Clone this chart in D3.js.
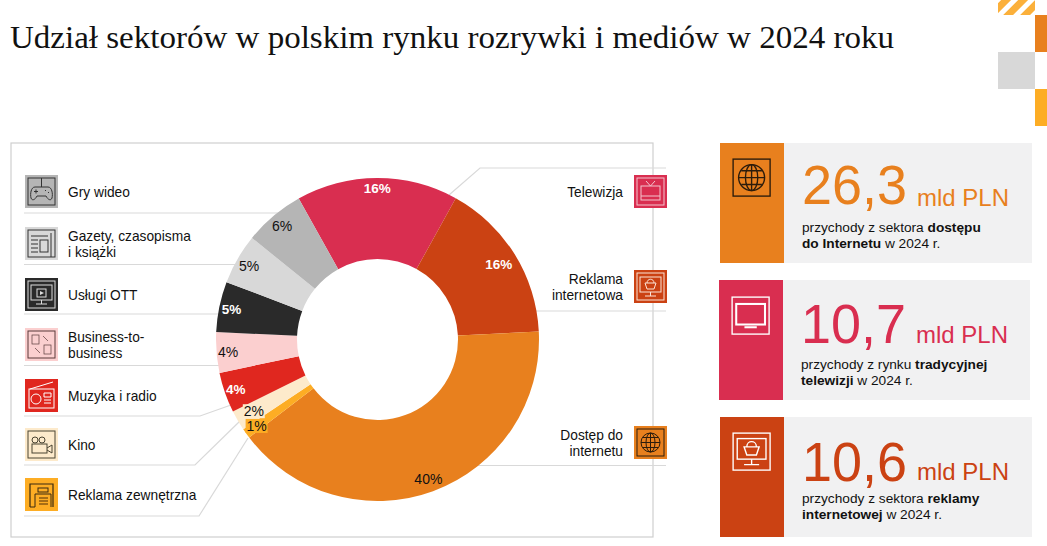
<!DOCTYPE html>
<html lang="pl">
<head>
<meta charset="utf-8">
<script src="https://cdn.jsdelivr.net/npm/d3@7"></script>
<style>
  html, body { margin: 0; padding: 0; background: #fff; }
  svg { display: block; }
  text { font-family: "Liberation Sans", Arial, sans-serif; fill: #111; }
</style>
</head>
<body>
<div id="chart"></div>
<script>
// chart values
var sectors = ["Telewizja", "Reklama internetowa", "Dostęp do internetu", "Reklama zewnętrzna", "Kino",
  "Muzyka i radio", "Business-to-business", "Usługi OTT", "Gazety, czasopisma i książki", "Gry wideo"];
var shares = [16, 16, 40, 1, 2, 4, 4, 5, 5, 6];

var cardValues = ["26,3", "10,7", "10,6"];
var cardUnit = "mld PLN";

// layout and styles
var colors = ["#d92e50", "#cb4213", "#e8801e", "#fdad24", "#fdeacb", "#e0271f", "#fbcfcf", "#2a2a2a", "#d8d8d8", "#b5b5b5"];
var labelColors = ["#fff", "#fff", "#111", "#111", "#111", "#fff", "#111", "#fff", "#111", "#111"];
var labelRadii = [151.5, 143, 148, 148.6, 143, 150, 150, 149, 148, 148];
var width = 1047, height = 546;
var cx = 377.5, cy = 339.5, outer = 161.5, inner = 80.5;
var lineColor = "#d9d9d9";

var svg = d3.select("#chart").append("svg")
  .attr("width", width)
  .attr("height", height);

// title
svg.append("text")
  .attr("x", 10).attr("y", 48)
  .attr("textLength", 884)
  .attr("lengthAdjust", "spacingAndGlyphs")
  .style("font-family", "'Liberation Serif', serif")
  .style("font-size", "31px")
  .text("Udział sektorów w polskim rynku rozrywki i mediów w 2024 roku");

// corner decoration
var defs = svg.append("defs");
defs.append("pattern")
  .attr("id", "hatch")
  .attr("patternUnits", "userSpaceOnUse")
  .attr("width", 12).attr("height", 12)
  .attr("patternTransform", "rotate(45)")
  .append("rect").attr("width", 7).attr("height", 12).attr("fill", "#fbb03b");
svg.append("rect").attr("x", 998).attr("y", 0).attr("width", 37).attr("height", 15).attr("fill", "url(#hatch)");
svg.append("rect").attr("x", 1035).attr("y", 15).attr("width", 12).attr("height", 37).attr("fill", "#e8801e");
svg.append("rect").attr("x", 998).attr("y", 52).attr("width", 37).attr("height", 37).attr("fill", "#d8d8d8");
svg.append("rect").attr("x", 1035).attr("y", 89).attr("width", 12).attr("height", 37).attr("fill", "#fdad24");

// frame
svg.append("rect")
  .attr("x", 11).attr("y", 143).attr("width", 642).attr("height", 394)
  .attr("fill", "#fff").attr("stroke", "#cfcfcf").attr("stroke-width", 1.2);

// leader lines, drawn under the ring
var leaders = [
  [[24, 213], [290, 213]],
  [[24, 264.5], [250, 264.5]],
  [[24, 314], [230, 314]],
  [[24, 365.5], [225, 365.5]],
  [[24, 416], [200, 416], [231, 405]],
  [[24, 465], [195, 465], [240, 421]],
  [[24, 516], [199, 516], [248, 438]],
  [[666, 168], [480, 168], [449, 195]],
  [[666, 311], [530, 311]],
  [[666, 465.5], [470, 465.5]]
];
svg.append("g").selectAll("path")
  .data(leaders)
  .join("path")
  .attr("d", d3.line())
  .attr("fill", "none")
  .attr("stroke", lineColor)
  .attr("stroke-width", 1.2);

// ring
var startAngle = -29.2 * Math.PI / 180;
var pie = d3.pie().sort(null).value(function(d) { return d; })
  .startAngle(startAngle).endAngle(startAngle + 2 * Math.PI);
var arc = d3.arc().innerRadius(inner).outerRadius(outer);
var arcs = pie(shares);

var ring = svg.append("g").attr("transform", "translate(" + cx + "," + cy + ")");
ring.selectAll("path")
  .data(arcs)
  .join("path")
  .attr("d", arc)
  .attr("fill", function(d, i) { return colors[i]; });

// percent labels
var labels = ring.selectAll("g.label")
  .data(arcs)
  .join("g")
  .attr("class", "label")
  .attr("transform", function(d, i) {
    var a = (d.startAngle + d.endAngle) / 2;
    return "translate(" + (Math.sin(a) * labelRadii[i]) + "," + (-Math.cos(a) * labelRadii[i]) + ")";
  });
labels.filter(function(d) { return d.value < 3; })
  .append("rect")
  .attr("x", -11).attr("y", -7).attr("width", 22).attr("height", 14)
  .attr("fill", function(d) { return colors[arcs.indexOf(d)]; });
labels.append("text")
  .attr("text-anchor", "middle")
  .attr("dy", "0.36em")
  .style("font-size", function(d, i) { return labelColors[i] == "#fff" ? "13.5px" : "14px"; })
  .style("fill", function(d, i) { return labelColors[i]; })
  .style("font-weight", function(d, i) { return labelColors[i] == "#fff" ? "bold" : "normal"; })
  .text(function(d) { return d.value + "%"; });

// simple icon glyphs, each in a 33x33 box
function frame(g, c) {
  g.append("rect").attr("x", 3).attr("y", 3).attr("width", 27).attr("height", 27)
    .attr("fill", "none").attr("stroke", c).attr("stroke-width", 1);
}
function p(g, d, c, w) {
  g.append("path").attr("d", d).attr("fill", "none").attr("stroke", c).attr("stroke-width", w || 1);
}
function screen(g, c) {
  g.append("rect").attr("x", 6).attr("y", 7).attr("width", 21).attr("height", 15)
    .attr("fill", "none").attr("stroke", c);
  p(g, "M16.5 22V26M11 26H22", c);
}
var icons = {
  game: function(g, c) {
    frame(g, c);
    p(g, "M16.5 3V12M10 12H23C27 12 28 19 27 23C26 26 23 25 21 21H12C10 25 7 26 6 23C5 19 6 12 10 12Z", c);
    p(g, "M9 16.5H13M11 14.5V18.5M20 15.5H21M23 17.5H24", c);
  },
  paper: function(g, c) {
    frame(g, c);
    p(g, "M26 6V30", c);
    p(g, "M6 9H23M6 13H13M6 17H13M6 21H13M6 25H13", c);
    g.append("rect").attr("x", 15).attr("y", 13).attr("width", 8).attr("height", 12).attr("fill", "none").attr("stroke", c);
  },
  ott: function(g, c) {
    frame(g, c);
    screen(g, c);
    g.append("rect").attr("x", 12).attr("y", 11).attr("width", 9).attr("height", 8).attr("fill", "none").attr("stroke", c);
    g.append("path").attr("d", "M15 13L19 15L15 17Z").attr("fill", c);
  },
  b2b: function(g, c) {
    frame(g, c);
    g.append("rect").attr("x", 7).attr("y", 7).attr("width", 7).attr("height", 9).attr("fill", "none").attr("stroke", c).attr("stroke-width", 0.7);
    g.append("rect").attr("x", 19).attr("y", 17).attr("width", 7).attr("height", 9).attr("fill", "none").attr("stroke", c).attr("stroke-width", 0.7);
    p(g, "M18 8L23 13M10 20L15 25", c, 0.7);
  },
  radio: function(g, c) {
    g.append("rect").attr("x", 4).attr("y", 10).attr("width", 25).attr("height", 19).attr("fill", "none").attr("stroke", c);
    p(g, "M5 10L28 3M19 14H26V18H19ZM19 21H26M19 24H26", c);
    g.append("circle").attr("cx", 11).attr("cy", 20).attr("r", 5).attr("fill", "none").attr("stroke", c);
  },
  cinema: function(g, c) {
    frame(g, c);
    g.append("rect").attr("x", 7).attr("y", 16).attr("width", 15).attr("height", 9).attr("fill", "none").attr("stroke", c);
    g.append("circle").attr("cx", 10).attr("cy", 12).attr("r", 3).attr("fill", "none").attr("stroke", c);
    g.append("circle").attr("cx", 17).attr("cy", 12).attr("r", 3).attr("fill", "none").attr("stroke", c);
    p(g, "M22 20L27 17V25L22 22", c);
  },
  outdoor: function(g, c) {
    p(g, "M5 29V6H28V29", c, 1.2);
    g.append("rect").attr("x", 13).attr("y", 10).attr("width", 10).attr("height", 4).attr("fill", "none").attr("stroke", c);
    p(g, "M10 29V16H26V29M5 29H10", c);
    p(g, "M14 20H23M14 23H23M14 26H23", "#8a5a10", 1.5);
  },
  tv: function(g, c) {
    frame(g, c);
    g.append("rect").attr("x", 7).attr("y", 11).attr("width", 19).attr("height", 14).attr("fill", "none").attr("stroke", c);
    p(g, "M12 6L16.5 11L21 6M7 21H26", c);
  },
  shop: function(g, c) {
    frame(g, c);
    screen(g, c);
    p(g, "M11 13H22L20 19H13ZM13 13C13 8 20 8 20 13", c);
  },
  globe: function(g, c) {
    frame(g, c);
    g.append("circle").attr("cx", 16.5).attr("cy", 16.5).attr("r", 9.5).attr("fill", "none").attr("stroke", c);
    g.append("ellipse").attr("cx", 16.5).attr("cy", 16.5).attr("rx", 4.5).attr("ry", 9.5).attr("fill", "none").attr("stroke", c);
    p(g, "M7 16.5H26M16.5 7V26M9 11.5H24M9 21.5H24", c);
  },
  monitor: function(g, c) {
    frame(g, c);
    g.append("rect").attr("x", 6).attr("y", 8).attr("width", 21).attr("height", 15).attr("fill", "none").attr("stroke", c).attr("stroke-width", 1.5);
    p(g, "M12 25H21", c, 1.5);
  }
};

// legend rows
function iconBox(x, y, name, bg, c) {
  var g = svg.append("g").attr("transform", "translate(" + x + "," + y + ")");
  g.append("rect").attr("width", 33).attr("height", 33).attr("fill", bg);
  icons[name](g, c);
}
var legendLeft = [
  { y: 175, icon: "game", i: 9, c: "#333", lines: ["Gry wideo"] },
  { y: 227, icon: "paper", i: 8, c: "#333", lines: ["Gazety, czasopisma", "i książki"] },
  { y: 278, icon: "ott", i: 7, c: "#ddd", lines: ["Usługi OTT"] },
  { y: 328, icon: "b2b", i: 6, c: "#5a3a3a", lines: ["Business-to-", "business"] },
  { y: 379, icon: "radio", i: 5, c: "#fff", lines: ["Muzyka i radio"] },
  { y: 428, icon: "cinema", i: 4, c: "#4a4433", lines: ["Kino"] },
  { y: 478, icon: "outdoor", i: 3, c: "#3a2a10", lines: ["Reklama zewnętrzna"] }
];
var legendRight = [
  { y: 175, icon: "tv", i: 0, c: "#f3c4cd", lines: ["Telewizja"] },
  { y: 270, icon: "shop", i: 1, c: "#fbe3d6", lines: ["Reklama", "internetowa"] },
  { y: 426, icon: "globe", i: 2, c: "#2c1c0c", lines: ["Dostęp do", "internetu"] }
];
function rowText(row, x, anchor) {
  var mid = row.y + 16.5;
  var top = mid - (row.lines.length - 1) * 8.25;
  row.lines.forEach(function(t, k) {
    svg.append("text")
      .attr("x", x).attr("y", top + k * 16.5 + 5.5)
      .attr("text-anchor", anchor)
      .style("font-size", "13.75px")
      .text(t);
  });
}
legendLeft.forEach(function(r) {
  iconBox(25, r.y, r.icon, colors[r.i], r.c);
  rowText(r, 68, "start");
});
legendRight.forEach(function(r) {
  iconBox(634, r.y, r.icon, colors[r.i], r.c);
  rowText(r, 623, "end");
});

// cards on the right
var cards = [
  { x: 720, y: 143, w: 312, color: colors[2], icon: "globe", ic: "#2c1c0c", value: cardValues[0], iy: 12, vy: 61, ty: 89,
    text: [["przychody z sektora ", "dostępu"], ["", "do Internetu", " w 2024 r."]] },
  { x: 719, y: 280, w: 311, color: colors[0], icon: "monitor", ic: "#fff", value: cardValues[1], iy: 13, vy: 63, ty: 89,
    text: [["przychody z rynku ", "tradycyjnej"], ["", "telewizji", " w 2024 r."]] },
  { x: 720, y: 417, w: 312, color: colors[1], icon: "shop", ic: "#fff", value: cardValues[2], iy: 12, vy: 64, ty: 86,
    text: [["przychody z sektora ", "reklamy"], ["", "internetowej", " w 2024 r."]] }
];
cards.forEach(function(d) {
  svg.append("rect").attr("x", d.x).attr("y", d.y).attr("width", d.w).attr("height", 120).attr("fill", "#f1f1f2");
  svg.append("rect").attr("x", d.x).attr("y", d.y).attr("width", 64).attr("height", 120).attr("fill", d.color);
  var g = svg.append("g").attr("transform", "translate(" + (d.x + 9) + "," + (d.y + d.iy) + ") scale(1.37)");
  icons[d.icon](g, d.ic);

  svg.append("text").attr("x", d.x + 82).attr("y", d.y + d.vy)
    .attr("textLength", 105)
    .attr("lengthAdjust", "spacingAndGlyphs")
    .style("font-size", "55px").style("fill", d.color).text(d.value);
  svg.append("text").attr("x", d.x + 197).attr("y", d.y + 63)
    .style("font-size", "24px").style("fill", d.color).text(cardUnit);

  d.text.forEach(function(line, k) {
    var t = svg.append("text").attr("x", d.x + 82).attr("y", d.y + d.ty + k * 16)
      .style("font-size", "13.7px");
    line.forEach(function(s, n) {
      t.append("tspan").style("font-weight", n == 1 ? "bold" : "normal").text(s);
    });
  });
});
</script>
</body>
</html>
